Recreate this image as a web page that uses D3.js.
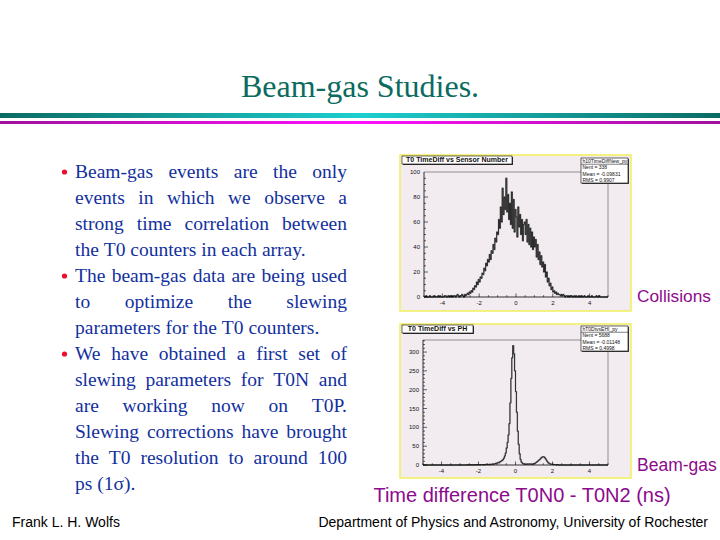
<!DOCTYPE html>
<html>
<head>
<meta charset="utf-8">
<script src="https://cdn.jsdelivr.net/npm/d3@7"></script>
<style>
  body { margin: 0; background: #fff; }
  text { font-family: "Liberation Sans", Arial, sans-serif; }
  text.serif { font-family: "Liberation Serif", "Times New Roman", serif; }
</style>
</head>
<body>
<svg id="slide" width="720" height="540"></svg>
<script>
// histogram binning: 200 bins of 0.05 from -5 to 5
const binStart = -5;
const binWidth = 0.05;

// "T0 TimeDiff vs Sensor Number" (collisions)
const collisionCounts = [
    0, 0, 1, 0, 0, 0, 1, 0, 0, 0,
    0, 1, 0, 0, 0, 1, 0, 1, 0, 0,
    0, 0, 1, 1, 0, 0, 1, 0, 1, 0,
    1, 0, 1, 1, 0, 1, 2, 1, 0, 1,
    1, 2, 1, 0, 2, 1, 2, 3, 2, 4,
    3, 5, 4, 7, 6, 9, 8, 12, 10, 14,
    12, 16, 15, 19, 18, 23, 21, 27, 25, 30,
    28, 34, 30, 37, 35, 42, 38, 47, 44, 52,
    50, 62, 55, 72, 60, 87, 66, 80, 70, 95,
    68, 82, 62, 75, 58, 84, 55, 78, 52, 70,
    64, 48, 72, 56, 66, 50, 62, 45, 58, 60,
    50, 62, 44, 58, 42, 55, 40, 52, 38, 48,
    40, 46, 32, 42, 30, 36, 26, 33, 24, 28,
    20, 26, 16, 20, 12, 15, 9, 11, 6, 8,
    4, 5, 3, 4, 2, 3, 2, 2, 1, 2,
    1, 2, 1, 0, 1, 1, 0, 1, 0, 1,
    1, 0, 0, 1, 0, 1, 0, 0, 1, 0,
    0, 1, 0, 0, 1, 0, 0, 0, 1, 0,
    0, 0, 1, 0, 0, 0, 0, 1, 0, 0,
    1, 0, 0, 0, 0, 0, 0, 0, 0, 0
];

// "T0 TimeDiff vs PH" (beam-gas)
const beamGasCounts = [
    0, 0, 0, 0, 0, 0, 0, 0, 0, 0,
    0, 0, 0, 0, 0, 0, 0, 0, 0, 0,
    0, 0, 0, 0, 0, 0, 0, 0, 0, 0,
    0, 0, 0, 0, 0, 0, 0, 0, 0, 0,
    0, 0, 0, 0, 0, 0, 0, 0, 1, 0,
    0, 0, 1, 0, 0, 1, 0, 1, 0, 1,
    1, 0, 1, 1, 1, 0, 1, 1, 2, 1,
    1, 1, 2, 1, 2, 3, 2, 3, 4, 5,
    5, 7, 6, 9, 10, 12, 14, 18, 24, 32,
    45, 60, 80, 110, 165, 230, 285, 317, 295, 250,
    195, 140, 90, 55, 30, 15, 8, 5, 3, 3,
    2, 2, 3, 2, 3, 3, 2, 3, 2, 3,
    4, 5, 7, 9, 11, 13, 15, 18, 20, 22,
    22, 20, 17, 13, 9, 6, 4, 3, 2, 2,
    2, 1, 1, 1, 0, 1, 0, 0, 0, 0,
    0, 0, 0, 0, 0, 0, 0, 0, 0, 0,
    0, 0, 0, 0, 0, 0, 0, 0, 0, 0,
    0, 0, 0, 0, 0, 0, 0, 0, 0, 0,
    0, 0, 0, 0, 0, 0, 0, 0, 0, 0,
    0, 0, 0, 0, 0, 0, 0, 0, 0, 0
];

const xTicks = [-4, -2, 0, 2, 4];
const collisionYTicks = [0, 20, 40, 60, 80, 100];
const beamGasYTicks = [0, 50, 100, 150, 200, 250, 300];

const collisionStats = ["h10TimeDiffNew_py", "Nent = 338", "Mean = -0.09831", "RMS = 0.9907"];
const beamGasStats = ["hT0DtvsEHI_py", "Nent = 5688", "Mean = -0.01148", "RMS = 0.4998"];

// bullet text, one entry per rendered line
const bulletParagraphs = [
    ["Beam-gas events are the only",
     "events in which we observe a",
     "strong time correlation between",
     "the T0 counters in each array."],
    ["The beam-gas data are being used",
     "to optimize the slewing",
     "parameters for the T0 counters."],
    ["We have obtained a first set of",
     "slewing parameters for T0N and",
     "are working now on T0P.",
     "Slewing corrections have brought",
     "the T0 resolution to around 100",
     "ps (1\u03c3)."]
];

const svg = d3.select("#slide");

// title and rules
svg.append("text")
    .attr("class", "serif")
    .attr("x", 360).attr("y", 97)
    .attr("text-anchor", "middle")
    .style("font-size", "32px")
    .attr("fill", "#0b6b5f")
    .text("Beam-gas Studies.");

const defs = svg.append("defs");
const tealGrad = defs.append("linearGradient").attr("id", "tealGrad");
tealGrad.append("stop").attr("offset", "0%").attr("stop-color", "#0c6a64");
tealGrad.append("stop").attr("offset", "50%").attr("stop-color", "#1ccfcf");
tealGrad.append("stop").attr("offset", "100%").attr("stop-color", "#0c6a64");
const magGrad = defs.append("linearGradient").attr("id", "magGrad");
magGrad.append("stop").attr("offset", "0%").attr("stop-color", "#a0109c");
magGrad.append("stop").attr("offset", "50%").attr("stop-color", "#ff10ff");
magGrad.append("stop").attr("offset", "100%").attr("stop-color", "#a0109c");

svg.append("rect").attr("x", 0).attr("y", 113).attr("width", 720).attr("height", 5).attr("fill", "url(#tealGrad)");
svg.append("rect").attr("x", 0).attr("y", 121).attr("width", 720).attr("height", 3).attr("fill", "url(#magGrad)");

// bullets, justified line by line
const body = svg.append("g").attr("fill", "#12309e");

const textLeft = 75, textWidth = 272, lineStep = 26;
let baseline = 178;
bulletParagraphs.forEach(lines => {
    svg.append("circle").attr("cx", 64.5).attr("cy", baseline - 6).attr("r", 2.6).attr("fill", "#e8102a");
    lines.forEach((line, i) => {
        const isLast = i === lines.length - 1;
        const words = line.split(" ");
        const spans = words.map(w => body.append("text")
            .attr("class", "serif")
            .style("font-size", "19.5px")
            .attr("y", baseline).text(w));
        const widths = spans.map(s => s.node().getComputedTextLength());
        const gap = (!isLast && words.length > 1) ? (textWidth - d3.sum(widths)) / (words.length - 1) : 4.9;
        let x = textLeft;
        spans.forEach((s, j) => { s.attr("x", x); x += widths[j] + gap; });
        baseline += lineStep;
    });
});

// one ROOT-style histogram panel
function drawPanel(opt) {
    const g = svg.append("g");
    g.append("rect")
        .attr("x", opt.box[0]).attr("y", opt.box[1])
        .attr("width", opt.box[2]).attr("height", opt.box[3])
        .attr("fill", "#f2ebf0").attr("stroke", "#f2ef5a").attr("stroke-width", 1.5);

    const x = d3.scaleLinear().domain([-5, 5]).range([opt.plot[0], opt.plot[1]]);
    const y = d3.scaleLinear().domain([0, opt.yMax]).range([opt.plot[3], opt.plot[2]]);

    // frame top/right
    g.append("path")
        .attr("d", `M${opt.plot[0]},${opt.plot[2]}H${opt.plot[1]}V${opt.plot[3]}`)
        .attr("fill", "none").attr("stroke", "#777").attr("stroke-width", 0.8);

    // histogram
    const pts = opt.counts.map((c, i) => [binStart + (i + 0.5) * binWidth, c]);
    pts.unshift([-5, opt.counts[0]]);
    pts.push([5, opt.counts[opt.counts.length - 1]]);
    const line = d3.line().x(d => x(d[0])).y(d => y(d[1])).curve(d3.curveStep);
    g.append("path").attr("d", line(pts))
        .attr("fill", "none").attr("stroke", "#999").attr("stroke-width", 1.4);
    g.append("path").attr("d", line(pts))
        .attr("fill", "none").attr("stroke", "#000").attr("stroke-width", 0.7);

    // x axis, ticks pointing up into the frame
    const xAxis = g.append("g").attr("transform", `translate(0,${opt.plot[3]})`);
    xAxis.append("line").attr("x1", opt.plot[0]).attr("x2", opt.plot[1]).attr("stroke", "#000").attr("stroke-width", 0.8);
    xAxis.selectAll(".minor").data(d3.range(-5, 5.01, 0.5)).join("line")
        .attr("x1", d => x(d)).attr("x2", d => x(d))
        .attr("y1", 0).attr("y2", d => xTicks.includes(d) ? -3.5 : -1.8)
        .attr("stroke", "#000").attr("stroke-width", 0.6);
    xAxis.selectAll("text").data(xTicks).join("text")
        .attr("x", d => x(d)).attr("y", 8)
        .attr("text-anchor", "middle")
        .style("font-size", "6px").attr("fill", "#111")
        .text(d => d);

    // y axis, ticks pointing right into the frame
    const yAxis = g.append("g").attr("transform", `translate(${opt.plot[0]},0)`);
    yAxis.append("line").attr("y1", opt.plot[2]).attr("y2", opt.plot[3]).attr("stroke", "#000").attr("stroke-width", 0.8);
    yAxis.selectAll(".minor").data(d3.range(0, opt.yMax, opt.yMinor)).join("line")
        .attr("y1", d => y(d)).attr("y2", d => y(d))
        .attr("x1", 0).attr("x2", d => opt.yTicks.includes(d) ? 4 : 2)
        .attr("stroke", "#000").attr("stroke-width", 0.6);
    yAxis.selectAll("text").data(opt.yTicks).join("text")
        .attr("x", -4).attr("y", d => y(d) + 2)
        .attr("text-anchor", "end")
        .style("font-size", "6px").attr("fill", "#111")
        .text(d => d);

    // title box
    const tb = opt.titleBox;
    g.append("rect").attr("x", tb[0] + 1).attr("y", tb[1] + 1).attr("width", tb[2]).attr("height", tb[3]).attr("fill", "#333");
    g.append("rect").attr("x", tb[0]).attr("y", tb[1]).attr("width", tb[2]).attr("height", tb[3])
        .attr("fill", "#fff").attr("stroke", "#000").attr("stroke-width", 0.6);
    g.append("text").attr("x", tb[0] + tb[2] / 2).attr("y", tb[1] + tb[3] - 1.8)
        .attr("text-anchor", "middle")
        .style("font-size", "7px").style("font-weight", "bold").attr("fill", "#111")
        .text(opt.title);

    // stats box
    const sb = opt.statsBox;
    g.append("rect").attr("x", sb[0] + 1).attr("y", sb[1] + 1).attr("width", sb[2]).attr("height", sb[3]).attr("fill", "#444");
    g.append("rect").attr("x", sb[0]).attr("y", sb[1]).attr("width", sb[2]).attr("height", sb[3])
        .attr("fill", "#fff").attr("stroke", "#000").attr("stroke-width", 0.6);
    g.append("line").attr("x1", sb[0]).attr("x2", sb[0] + sb[2])
        .attr("y1", sb[1] + sb[3] / 4).attr("y2", sb[1] + sb[3] / 4)
        .attr("stroke", "#000").attr("stroke-width", 0.5);
    g.selectAll(".stat").data(opt.stats).join("text")
        .attr("x", sb[0] + 1.5).attr("y", (d, i) => sb[1] + 5.2 + i * sb[3] / 4)
        .style("font-size", "5px").attr("fill", "#111")
        .text(d => d);
}

drawPanel({
    box: [400, 155, 231, 156],
    plot: [424, 608, 172, 297],
    yMax: 100, yMinor: 5, yTicks: collisionYTicks,
    counts: collisionCounts,
    title: "T0 TimeDiff vs Sensor Number",
    titleBox: [402, 156, 110, 8],
    statsBox: [581, 158, 47, 25],
    stats: collisionStats
});

drawPanel({
    box: [400, 324, 231, 154],
    plot: [423, 608, 340, 465],
    yMax: 332, yMinor: 10, yTicks: beamGasYTicks,
    counts: beamGasCounts,
    title: "T0 TimeDiff vs PH",
    titleBox: [402, 325, 71, 8],
    statsBox: [581, 326, 47, 25],
    stats: beamGasStats
});

// side labels
const purple = "#8c0a8c";
svg.append("text").attr("x", 637).attr("y", 302)
    .style("font-size", "17.3px").attr("fill", purple).text("Collisions");
svg.append("text").attr("x", 637).attr("y", 471)
    .style("font-size", "17.5px").attr("fill", purple).text("Beam-gas");
svg.append("text").attr("x", 522).attr("y", 502)
    .attr("text-anchor", "middle")
    .style("font-size", "20px").attr("fill", purple)
    .text("Time difference T0N0 - T0N2 (ns)");

// footer
svg.append("text").attr("x", 12).attr("y", 527)
    .style("font-size", "14px").attr("fill", "#000").text("Frank L. H. Wolfs");
svg.append("text").attr("x", 708).attr("y", 527)
    .attr("text-anchor", "end")
    .style("font-size", "14px").attr("fill", "#000")
    .text("Department of Physics and Astronomy, University of Rochester");
</script>
</body>
</html>
